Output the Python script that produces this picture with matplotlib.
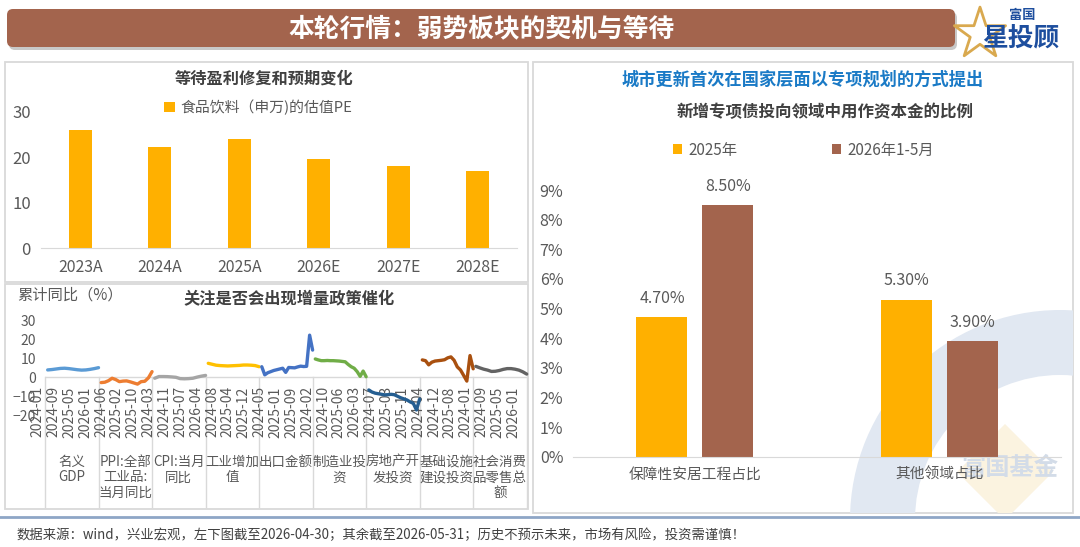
"""Dashboard slide: valuation PE, macro cumulative yoy, special-bond capital share."""
import numpy as np
import matplotlib
matplotlib.use("Agg")
import matplotlib.pyplot as plt
from matplotlib.patches import FancyBboxPatch, Rectangle, Wedge, Polygon

plt.rcParams["font.family"] = ["Noto Sans CJK SC", "DejaVu Sans"]

W, H = 1080, 547
GRAY_TXT = "#595959"
DARK_TXT = "#404040"
AXIS_C = "#D9D9D9"
GOLD = "#FFB000"
BROWN = "#A3644D"

# ---- top-left: food & beverage PE
pe_years = ["2023A", "2024A", "2025A", "2026E", "2027E", "2028E"]
pe_values = [26.0, 22.2, 23.9, 19.7, 18.1, 17.0]

# ---- bottom-left: cumulative yoy (%) per indicator
groups = ["名义\nGDP", "PPI:全部\n工业品:\n当月同比", "CPI:当月\n同比", "工业增加\n值", "出口金额",
          "制造业投\n资", "房地产开\n发投资", "基础设施\n建设投资", "社会消费\n品零售总\n额"]
gdp = [3.9, 4.1, 4.4, 4.7, 4.8, 4.6, 4.3, 4.0, 3.8, 3.9, 4.2, 4.6, 5.1]
ppi = [-2.8, -2.6, -1.8, -0.5, -1.2, -2.3, -2.0, -1.9, -2.4, -3.0, -3.6, -2.3, -2.1, -0.3, 3.0]
cpi = [-0.5, 0.4, 0.4, 0.35, 0.2, 0.0, -0.7, -0.8, -0.7, -0.5, 0.1, 0.6, 1.0]
iva = [7.4, 6.9, 6.4, 6.2, 6.1, 6.0, 6.1, 6.2, 6.3, 6.5, 6.5, 6.4, 6.2, 5.6]
export = [5.6, 1.3, 2.4, 3.0, 3.6, 4.0, 4.4, 4.8, 2.6, 5.2, 5.1, 5.0, 5.5, 5.9, 5.7, 5.8, 22.3, 14.4]
mfg = [9.7, 9.2, 8.8, 8.8, 8.9, 8.8, 8.8, 8.7, 8.6, 8.4, 8.2, 6.8, 5.6, 4.8, 3.0, 0.5, 3.3, 0.3]
realestate = [-6.7, -7.8, -8.4, -8.7, -9.0, -9.3, -9.2, -9.0, -9.2, -10.0, -10.8, -11.4, -12.0,
              -13.0, -13.8, -17.3, -11.5]
infra = [9.2, 8.8, 6.6, 8.0, 8.6, 8.8, 9.0, 9.3, 10.3, 10.8, 9.0, 5.5, 3.9, 1.0, -2.0, 11.5, 4.5]
retail = [5.8, 5.0, 4.3, 3.8, 3.1, 3.2, 3.6, 4.2, 4.6, 4.6, 4.3, 3.8, 2.9, 1.7]
series = [gdp, ppi, cpi, iva, export, mfg, realestate, infra, retail]
series_colors = ["#5B9BD5", "#ED7D31", "#A5A5A5", "#FFC000", "#4472C4",
                 "#70AD47", "#255E91", "#A9500F", "#636363"]
date_labels = ["2024-01", "2024-09", "2025-05", "2026-01", "2024-06", "2025-02", "2025-10",
               "2024-03", "2024-11", "2025-07", "2026-04", "2024-08", "2025-04", "2025-12",
               "2024-05", "2025-01", "2025-09", "2024-02", "2024-10", "2025-06", "2026-03",
               "2024-07", "2025-03", "2025-11", "2024-04", "2024-12", "2025-08", "2024-01",
               "2024-09", "2025-05", "2026-01"]

# ---- right: share of new special bonds used as project capital (%)
share_cats = ["保障性安居工程占比", "其他领域占比"]
share_2025 = [4.7, 5.3]
share_2026 = [8.5, 3.9]


def ax_px(fig, x0, y0, x1, y1):
    return fig.add_axes([x0 / W, 1 - y1 / H, (x1 - x0) / W, (y1 - y0) / H])


def main():
    fig = plt.figure(figsize=(W / 100, H / 100), dpi=100)
    fig.patch.set_facecolor("white")

    bg = fig.add_axes([0, 0, 1, 1])
    bg.set_xlim(0, W); bg.set_ylim(H, 0); bg.axis("off")

    # header bar
    bg.add_patch(FancyBboxPatch((9, 12), 948, 38, boxstyle="round,pad=0,rounding_size=6",
                                fc="#C8C8C8", ec="none"))
    bg.add_patch(FancyBboxPatch((7, 9), 948, 38, boxstyle="round,pad=0,rounding_size=6",
                                fc=BROWN, ec="none"))
    bg.text(482, 29, "本轮行情：弱势板块的契机与等待", color="white", fontsize=18.5,
            fontweight="bold", ha="center", va="center")
    # logo
    bg.scatter([980], [34], marker="*", s=1500, facecolors="none", edgecolors="#D9A94F", lw=2)
    bg.text(1022, 15, "富国", color="#1D4E9E", fontsize=9.5, fontweight="bold", ha="center", va="center")
    bg.text(1021, 38, "星投顾", color="#1D4E9E", fontsize=18.5, fontweight="bold", ha="center", va="center")

    # panel frames
    for (x, y, w, h) in [(5, 62, 523, 220), (5, 284, 523, 225), (533, 62, 540, 451)]:
        bg.add_patch(Rectangle((x, y), w, h, fc="none", ec=AXIS_C, lw=1.3))

    # watermark in right panel
    clip = Rectangle((533, 62), 540, 451, transform=bg.transData)
    ring = Wedge((1060, 520), 210, 0, 360, width=65, fc="#E1E8F2", ec="none")
    diamond = Polygon([(1005, 424), (1053, 472), (1005, 520), (957, 472)], closed=True,
                      fc="#FBF3E0", ec="none")
    for p in (ring, diamond):
        bg.add_patch(p); p.set_clip_path(clip)
    bg.text(1010, 468, "富国基金", color="#D3DCE8", fontsize=17.5, fontweight="bold",
            ha="center", va="center")

    # footer
    bg.plot([0, W], [517, 517], color="#8EA6C6", lw=2)
    bg.text(17, 535, "数据来源：wind，兴业宏观，左下图截至2026-04-30；其余截至2026-05-31；"
                     "历史不预示未来，市场有风险，投资需谨慎！",
            color=DARK_TXT, fontsize=9.6, ha="left", va="center")

    # ---------- top-left bars
    ax1 = ax_px(fig, 40.6, 111.7, 517.2, 248.3)
    ax1.set_facecolor("none")
    x = np.arange(len(pe_years))
    bars = ax1.bar(x, pe_values, width=0.29, color=GOLD)
    ax1.set_xlim(-0.5, len(pe_years) - 0.5)
    ax1.set_ylim(0, 30)
    ax1.set_yticks([0, 10, 20, 30])
    ax1.set_xticks(x); ax1.set_xticklabels(pe_years)
    ax1.tick_params(axis="y", length=0, pad=7, labelsize=12, labelcolor=GRAY_TXT)
    ax1.tick_params(axis="x", length=0, pad=8, labelsize=11.4, labelcolor=GRAY_TXT)
    for s in ("top", "right", "left"):
        ax1.spines[s].set_visible(False)
    ax1.spines["bottom"].set_color(AXIS_C)
    ax1.legend([bars], ["食品饮料（申万)的估值PE"], loc="center", bbox_to_anchor=(258.6 / W, 1 - 107.3 / H),
               bbox_transform=fig.transFigure, frameon=False, fontsize=10.7, labelcolor=GRAY_TXT,
               handlelength=0.7, handleheight=0.7, handletextpad=0.4)
    bg.text(264, 78.6, "等待盈利修复和预期变化", color=DARK_TXT, fontsize=11.7, fontweight="bold",
            ha="center", va="center")

    # ---------- bottom-left lines with grouped category axis
    ax2 = ax_px(fig, 45, 320.6, 526.7, 415.1)
    ax2.set_facecolor("none")
    ax2.set_xlim(0, len(groups)); ax2.set_ylim(-20, 30)
    ax2.set_yticks(range(-20, 31, 10)); ax2.set_xticks([])
    ax2.tick_params(axis="y", length=0, pad=6.5, labelsize=10, labelcolor=GRAY_TXT)
    for s in ax2.spines.values():
        s.set_visible(False)
    ax2.plot([0, len(groups)], [0, 0], color=AXIS_C, lw=1, zorder=1)
    for g in range(len(groups) + 1):
        ax2.plot([g, g], [0, -68.6], color=AXIS_C, lw=1, clip_on=False, zorder=1)
    for g, (vals, c) in enumerate(zip(series, series_colors)):
        xs = np.linspace(g + 0.05, g + 1.0, len(vals))
        ax2.plot(xs, vals, color=c, lw=2.4, solid_capstyle="round", solid_joinstyle="round",
                 clip_on=False, zorder=3)
    for k, lab in enumerate(date_labels):
        ax2.text(-0.14 + k * 0.2963, -4.8, lab, rotation=90, ha="center", va="top",
                 fontsize=10, color=GRAY_TXT, clip_on=False, zorder=2)
    for g, lab in enumerate(groups):
        ax2.text(g + 0.5, -41, lab, ha="center", va="top", fontsize=9.7, color=GRAY_TXT,
                 linespacing=1.15, clip_on=False)
    bg.text(17, 295, "累计同比（%）", color=GRAY_TXT, fontsize=11, ha="left", va="center")
    bg.text(289, 299, "关注是否会出现增量政策催化", color=DARK_TXT, fontsize=11.7, fontweight="bold",
            ha="center", va="center")

    # ---------- right grouped bars
    ax3 = ax_px(fig, 572.8, 190, 1061.4, 456.7)
    ax3.set_facecolor("none")
    xc = np.arange(len(share_cats))
    b1 = ax3.bar(xc - 0.135, share_2025, width=0.209, color=GOLD, label="2025年")
    b2 = ax3.bar(xc + 0.135, share_2026, width=0.209, color=BROWN, label="2026年1-5月")
    for bs, vals in ((b1, share_2025), (b2, share_2026)):
        for b, v in zip(bs, vals):
            ax3.annotate(f"{v:.2f}%", (b.get_x() + b.get_width() / 2, v), xytext=(0, 13.5),
                         textcoords="offset points", ha="center", va="center",
                         fontsize=11.5, color=GRAY_TXT, annotation_clip=False)
    ax3.set_xlim(-0.5, len(share_cats) - 0.5); ax3.set_ylim(0, 9)
    ax3.set_yticks(range(0, 10))
    ax3.set_yticklabels([f"{v}%" for v in range(0, 10)])
    ax3.set_xticks(xc); ax3.set_xticklabels(share_cats)
    ax3.tick_params(axis="y", length=0, pad=6.8, labelsize=11.5, labelcolor=GRAY_TXT)
    ax3.tick_params(axis="x", length=0, pad=8, labelsize=10.6, labelcolor=GRAY_TXT)
    for s in ("top", "right", "left"):
        ax3.spines[s].set_visible(False)
    ax3.spines["bottom"].set_color(AXIS_C)
    ax3.legend(loc="center", bbox_to_anchor=(803.7 / W, 1 - 150 / H), bbox_transform=fig.transFigure,
               ncol=2, frameon=False, fontsize=11, labelcolor=GRAY_TXT, handlelength=0.6,
               handleheight=0.6, handletextpad=0.4, columnspacing=6.2)
    bg.text(803, 79.3, "城市更新首次在国家层面以专项规划的方式提出", color="#1A7AC6", fontsize=12.4,
            fontweight="bold", ha="center", va="center")
    bg.text(825, 111.7, "新增专项债投向领域中用作资本金的比例", color=DARK_TXT, fontsize=11.9,
            fontweight="bold", ha="center", va="center")

    fig.savefig("out.png", dpi=100, facecolor="white")


if __name__ == "__main__":
    main()
